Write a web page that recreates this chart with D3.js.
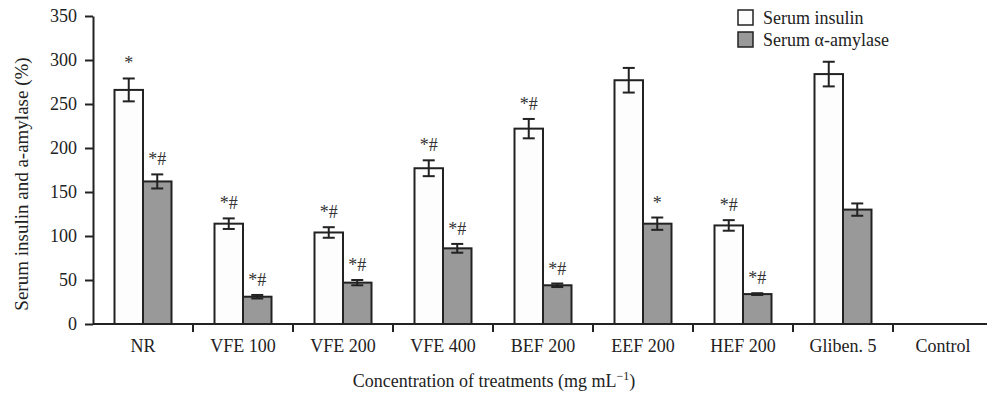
<!DOCTYPE html>
<html>
<head>
<meta charset="utf-8">
<script src="https://cdn.jsdelivr.net/npm/d3@7"></script>
<style>
  body { margin: 0; background: #fff; }
  svg { display: block; font-family: "Liberation Serif", "Times New Roman", serif; }
</style>
</head>
<body>
<div id="chart"></div>
<script>
const categories = ["NR", "VFE 100", "VFE 200", "VFE 400", "BEF 200", "EEF 200", "HEF 200", "Gliben. 5", "Control"];
const seriesNames = ["Serum insulin", "Serum \u03b1-amylase"];
const insulin = [266, 114, 104, 177, 222, 277, 112, 284, null];
const insulinErr = [13, 6, 6, 9, 11, 14, 6, 14, null];
const amylase = [162, 31, 47, 86, 44, 114, 34, 130, null];
const amylaseErr = [8, 2, 3, 5, 2, 7, 1, 7, null];
const insulinMarks = ["*", "*#", "*#", "*#", "*#", "", "*#", "", ""];
const amylaseMarks = ["*#", "*#", "*#", "*#", "*#", "*", "*#", "", ""];
const yTicks = [0, 50, 100, 150, 200, 250, 300, 350];

const width = 987, height = 393;
const margin = {top: 16, right: -6, bottom: 69, left: 93};
const ink = "#222";
const fills = ["#fdfdfd", "#999999"];

const svg = d3.select("#chart").append("svg")
  .attr("width", width)
  .attr("height", height);

const x0 = d3.scaleBand()
  .domain(categories)
  .range([margin.left, width - margin.right])
  .paddingInner(0.43)
  .paddingOuter(0.215);

const x1 = d3.scaleBand()
  .domain(seriesNames)
  .range([0, x0.bandwidth()]);

const y = d3.scaleLinear()
  .domain([0, 350])
  .range([height - margin.bottom, margin.top]);

const rows = categories.map((c, i) => ({
  cat: c,
  bars: [
    {s: seriesNames[0], v: insulin[i], e: insulinErr[i], m: insulinMarks[i], f: fills[0]},
    {s: seriesNames[1], v: amylase[i], e: amylaseErr[i], m: amylaseMarks[i], f: fills[1]}
  ].filter(b => b.v != null)
}));

// y axis
svg.append("g")
  .attr("transform", `translate(${margin.left},0)`)
  .call(d3.axisLeft(y).tickValues(yTicks).tickSize(8).tickPadding(8).tickSizeOuter(0))
  .call(g => g.select(".domain").attr("stroke", ink).attr("stroke-width", 2))
  .call(g => g.selectAll(".tick line").attr("stroke", ink).attr("stroke-width", 2))
  .call(g => g.selectAll(".tick text").attr("fill", ink).attr("font-size", 18).attr("font-family", "Liberation Serif"));

// bars
const groups = svg.append("g").selectAll("g")
  .data(rows)
  .join("g")
  .attr("transform", d => `translate(${x0(d.cat)},0)`);

groups.selectAll("rect")
  .data(d => d.bars)
  .join("rect")
  .attr("x", d => x1(d.s))
  .attr("y", d => y(d.v))
  .attr("width", x1.bandwidth())
  .attr("height", d => y(0) - y(d.v))
  .attr("fill", d => d.f)
  .attr("stroke", ink)
  .attr("stroke-width", 2);

// error bars
const cap = 6;
const err = groups.selectAll("g.err")
  .data(d => d.bars)
  .join("g")
  .attr("class", "err")
  .attr("stroke", ink)
  .attr("stroke-width", 2);

err.append("line")
  .attr("x1", d => x1(d.s) + x1.bandwidth() / 2)
  .attr("x2", d => x1(d.s) + x1.bandwidth() / 2)
  .attr("y1", d => y(d.v + d.e))
  .attr("y2", d => y(d.v - d.e));
err.append("line")
  .attr("x1", d => x1(d.s) + x1.bandwidth() / 2 - cap)
  .attr("x2", d => x1(d.s) + x1.bandwidth() / 2 + cap)
  .attr("y1", d => y(d.v + d.e))
  .attr("y2", d => y(d.v + d.e));
err.append("line")
  .attr("x1", d => x1(d.s) + x1.bandwidth() / 2 - cap)
  .attr("x2", d => x1(d.s) + x1.bandwidth() / 2 + cap)
  .attr("y1", d => y(d.v - d.e))
  .attr("y2", d => y(d.v - d.e));

// significance marks
groups.selectAll("text.sig")
  .data(d => d.bars.filter(b => b.m))
  .join("text")
  .attr("class", "sig")
  .attr("x", d => x1(d.s) + x1.bandwidth() / 2)
  .attr("y", d => y(d.v + d.e) - 9)
  .attr("text-anchor", "middle")
  .attr("font-size", 18)
  .attr("fill", "#333")
  .text(d => d.m);

// x axis
const xAxisY = y(0);
svg.append("line")
  .attr("x1", margin.left)
  .attr("x2", width)
  .attr("y1", xAxisY)
  .attr("y2", xAxisY)
  .attr("stroke", ink)
  .attr("stroke-width", 2);

const step = x0.step();
svg.append("g").selectAll("line")
  .data(categories.slice(1))
  .join("line")
  .attr("x1", d => x0(d) - step * x0.paddingInner() / 2)
  .attr("x2", d => x0(d) - step * x0.paddingInner() / 2)
  .attr("y1", xAxisY)
  .attr("y2", xAxisY + 8)
  .attr("stroke", ink)
  .attr("stroke-width", 2);

svg.append("g").selectAll("text")
  .data(categories)
  .join("text")
  .attr("x", d => x0(d) + x0.bandwidth() / 2)
  .attr("y", xAxisY + 28)
  .attr("text-anchor", "middle")
  .attr("font-size", 18)
  .attr("fill", ink)
  .text(d => d);

// axis titles
const xTitle = svg.append("text")
  .attr("x", 494)
  .attr("y", 387)
  .attr("text-anchor", "middle")
  .attr("font-size", 18)
  .attr("fill", ink);
xTitle.append("tspan").text("Concentration of treatments (mg mL");
xTitle.append("tspan").attr("dy", -7).attr("font-size", 12).text("\u22121");
xTitle.append("tspan").attr("dy", 7).text(")");

svg.append("text")
  .attr("transform", "translate(28,184) rotate(-90)")
  .attr("text-anchor", "middle")
  .attr("font-size", 19)
  .attr("fill", ink)
  .text("Serum insulin and a-amylase (%)");

// legend
const legend = svg.append("g")
  .attr("transform", "translate(738,10)");
const li = legend.selectAll("g")
  .data(seriesNames)
  .join("g")
  .attr("transform", (d, i) => `translate(0,${i * 22})`);
li.append("rect")
  .attr("width", 15)
  .attr("height", 15)
  .attr("fill", (d, i) => fills[i])
  .attr("stroke", ink)
  .attr("stroke-width", 1.5);
li.append("text")
  .attr("x", 25)
  .attr("y", 14)
  .attr("font-size", 18)
  .attr("fill", ink)
  .text(d => d);
</script>
</body>
</html>
